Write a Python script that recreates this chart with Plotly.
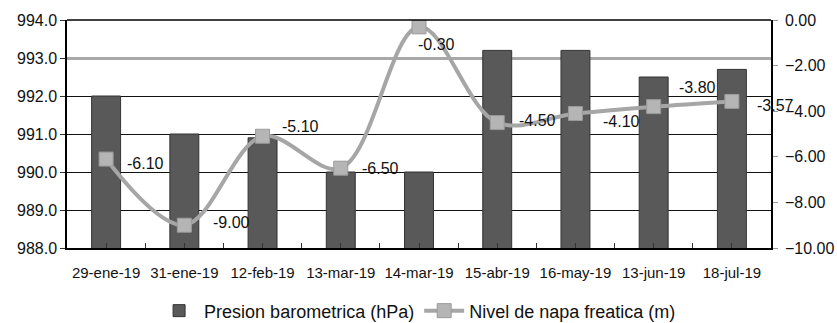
import plotly.graph_objects as go

# Sampling dates
fechas = ["29-ene-19", "31-ene-19", "12-feb-19", "13-mar-19", "14-mar-19",
          "15-abr-19", "16-may-19", "13-jun-19", "18-jul-19"]
# Barometric pressure (hPa) - left axis
presion = [992.0, 991.0, 990.9, 990.0, 990.0, 993.2, 993.2, 992.5, 992.7]
# Water table level (m) - right axis
napa = [-6.10, -9.00, -5.10, -6.50, -0.30, -4.50, -4.10, -3.80, -3.57]

# Pixel offsets of each value label from its marker (left edge of text, vertical centre)
label_dx = [19, 27, 17, 19, -3, 20, 26, 23, 23]
label_dy = [-4, 3, 10, 0, -18, 2, -8, 19, -4]

# Gridline levels on the pressure axis (993 drawn as a lighter, heavier line)
grid_dark = [989, 990, 991, 992, 994]
grid_light = [993]

idx = list(range(len(fechas)))
FONT = "Liberation Sans, Arial, sans-serif"
P_RANGE = [988, 994]

fig = go.Figure()
# empty traces so the two gridline-only axes get rendered
for ax in ("y3", "y4"):
    fig.add_trace(go.Scatter(x=[], y=[], yaxis=ax, showlegend=False,
                             hoverinfo="skip", mode="markers"))
fig.add_trace(go.Bar(
    x=idx, y=presion, name="Presion barometrica (hPa)",
    marker=dict(color="#595959", line=dict(color="#333333", width=1)),
    width=0.37, yaxis="y",
))
fig.add_trace(go.Scatter(
    x=idx, y=napa, name="Nivel de napa freatica (m)", yaxis="y2",
    mode="lines+markers",
    line=dict(color="#a6a6a6", width=4, shape="spline", smoothing=1),
    marker=dict(symbol="square", size=14, color="#b5b5b5",
                line=dict(color="#9a9a9a", width=1)),
))

annotations = [
    dict(x=i, y=v, xref="x", yref="y2", text=f"{v:.2f}", showarrow=False,
         xanchor="left", yanchor="middle", xshift=dx, yshift=dy,
         font=dict(family=FONT, size=16, color="#111111"))
    for i, v, dx, dy in zip(idx, napa, label_dx, label_dy)
]

grid_axis = dict(range=P_RANGE, overlaying="y", side="left", tickmode="array",
                 showticklabels=False, ticks="", showline=False, zeroline=False,
                 automargin=False, showgrid=True)

fig.update_layout(
    width=837, height=323,
    margin=dict(l=67, r=66, t=20, b=75, autoexpand=False),
    paper_bgcolor="white", plot_bgcolor="white",
    showlegend=True,
    legend=dict(orientation="h", x=0.498, xanchor="center",
                y=-0.276, yanchor="middle",
                font=dict(family=FONT, size=18, color="#111111"),
                itemwidth=40),
    annotations=annotations,
    xaxis=dict(
        range=[-0.5, 8.5], tickmode="array", tickvals=idx, ticktext=fechas,
        ticks="inside", ticklen=5, tickcolor="#333333", tickangle=0,
        minor=dict(tickmode="linear", tick0=-0.5, dtick=1, ticks="inside",
                   ticklen=5, tickcolor="#333333"),
        showline=True, linecolor="black", linewidth=1.5, automargin=False,
        showgrid=False, zeroline=False, ticklabelstandoff=10,
        tickfont=dict(family=FONT, size=15, color="#111111"),
    ),
    yaxis=dict(
        range=P_RANGE, dtick=1, tickformat=".1f", automargin=False,
        showgrid=False,
        ticks="outside", ticklen=5, tickcolor="#333333",
        showline=True, linecolor="black", linewidth=1.5, mirror=False,
        zeroline=False,
        tickfont=dict(family=FONT, size=16, color="#111111"),
    ),
    yaxis2=dict(
        range=[-10, 0], dtick=2, tickformat=".2f", overlaying="y", side="right",
        showgrid=False, zeroline=False, automargin=False,
        ticks="outside", ticklen=5, tickcolor="#999999", ticklabelstandoff=4,
        showline=True, linecolor="black", linewidth=1.5,
        tickfont=dict(family=FONT, size=16, color="#111111"),
    ),
    yaxis3=dict(grid_axis, tickvals=grid_dark, gridcolor="#111111", gridwidth=1),
    yaxis4=dict(grid_axis, tickvals=grid_light, gridcolor="#a8a8a8", gridwidth=3),
    shapes=[
        dict(type="line", xref="paper", x0=0, x1=1, yref="paper", y0=1, y1=1,
             line=dict(color="black", width=1.5)),
    ],
)

fig.write_html("out.html")
